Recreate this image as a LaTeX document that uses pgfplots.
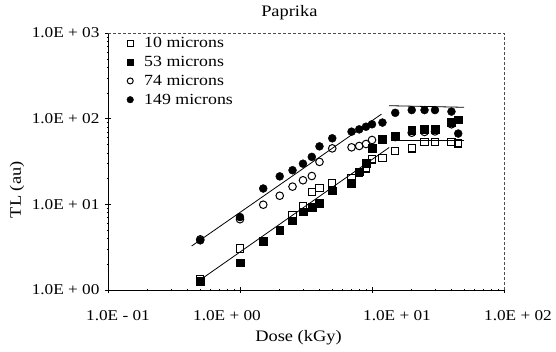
\documentclass[border=0pt]{standalone}
\usepackage{fontspec}
\setmainfont{Liberation Serif}[FakeStretch=1.15]
\usepackage{pgfplots}
\pgfplotsset{compat=1.18}
\newcommand\ff{\fontsize{16}{19}\selectfont}
\newcommand\ft{\fontsize{15}{18}\selectfont}
\newcommand\fl{\fontsize{15.5}{18}\selectfont}
\begin{document}
\begin{tikzpicture}
\begin{axis}[
  scale only axis, width=396pt, height=257pt,
  xmode=log, ymode=log, xmin=0.1, xmax=100, ymin=1, ymax=1000,
  axis lines=left, axis line style={-, line width=0.8pt},
  tick align=center, major tick length=6pt, minor tick length=3pt,
  tick style={black, line width=0.5pt},
  xtick={0.1,1,10,100},
  xticklabels={\hspace*{20pt}1.0E - 01, 1.0E + 00\hspace*{26pt}, \hspace*{50pt}1.0E + 01, \hspace*{28pt}1.0E + 02},
  ytick={1,10,100,1000},
  yticklabels={1.0E + 00, 1.0E + 01, 1.0E + 02, 1.0E + 03},
  xticklabel style={font=\ft, anchor=center, yshift=-23pt},
  yticklabel style={font=\ft, anchor=east, xshift=-2pt},
  xlabel={Dose (kGy)}, ylabel={TL (au)},
  xlabel style={font=\ff, at={(rel axis cs:0.481,0)}, anchor=center, yshift=-48pt},
  ylabel style={font=\ff, at={(rel axis cs:0,0.39)}, anchor=center, yshift=91pt},
  title={Paprika}, title style={font=\ff, at={(rel axis cs:0.458,1)}, anchor=center, yshift=14pt},
  legend style={draw=none, fill=none, at={(rel axis cs:0.043,0.995)}, anchor=north west,
    row sep=3pt, inner sep=1pt, font=\fl, nodes={inner xsep=2pt}},
  legend cell align=left,
  legend image code/.code={\path[draw=none,fill=none] (-4pt,0pt) -- (12pt,0pt); \draw[#1] plot coordinates {(0pt,0pt)};},
  clip=false,
]
\addlegendimage{only marks, mark=square, mark size=3pt, mark options={fill=white, line width=1.1pt}}
\addlegendentry{10 microns}
\addlegendimage{only marks, mark=square*, mark size=3pt, mark options={fill=black}}
\addlegendentry{53 microns}
\addlegendimage{only marks, mark=o, mark size=3pt, mark options={fill=white, line width=1pt}}
\addlegendentry{74 microns}
\addlegendimage{only marks, mark=*, mark size=3.3pt, mark options={fill=black}}
\addlegendentry{149 microns}

% fitted lines
\addplot[black, line width=0.8pt, forget plot] coordinates {(0.43,3.26) (11.8,113)};
\addplot[black, line width=0.8pt, forget plot] coordinates {(0.527,1.39) (13.5,46.1)};
\addplot[black, line width=0.8pt, forget plot] coordinates {(13.5,141.7) (49.8,135.8)};
\addplot[black, line width=0.8pt, forget plot] coordinates {(16.3,55.3) (49.8,55.3)};

% 74 microns (open circles)
\addplot[only marks, mark=o, mark size=3.8pt, mark options={fill=white, line width=1pt}, forget plot] coordinates {
(0.5,3.9) (1,6.7) (1.5,9.9) (2,12.6) (2.5,16.1) (3,19.1) (3.5,21.4) (4,31.3) (5,45)
(7,46.3) (8,48) (9,50.6) (10,56.4) (12,57) (15,61) (20,68.5) (25,70) (30,71) (40,86)
};
% 10 microns (open squares)
\addplot[only marks, mark=square, mark size=3.6pt, mark options={fill=white, line width=1.1pt}, forget plot] coordinates {
(0.5,1.35) (1,3.05) (1.5,3.7) (2,5.0) (2.5,7.5) (3,9.5) (3.5,13.9) (4,15.4) (5,17.6)
(7,20.2) (8,23) (9,26.3) (10,33.5) (12,34.5) (15,42.3) (20,45) (25,53) (30,53) (40,53.8) (45,51.5)
};
% 53 microns (filled squares)
\addplot[only marks, mark=square*, mark size=3.9pt, mark options={fill=black}, forget plot] coordinates {
(0.5,1.27) (1,2.08) (1.5,3.7) (2,5.0) (2.5,6.45) (3,8.2) (3.5,9.3) (4,10.3) (5,14.4)
(7,17.8) (8,24) (9,30) (10,45) (12,58) (15,63) (20,74) (25,75) (30,76) (40,91) (45,97)
};
% 149 microns (filled circles)
\addplot[only marks, mark=*, mark size=4pt, mark options={fill=black}, forget plot] coordinates {
(0.5,3.8) (1,7.1) (1.5,15.3) (2,21.2) (2.5,25) (3,29.8) (3.5,35.8) (4,47.5) (5,59)
(7,70.5) (8,75) (9,80.5) (10,86) (12,90) (15,117) (20,126) (25,126) (30,126) (40,121) (45,67)
};

\draw[black!70, densely dashed, line width=0.4pt] (rel axis cs:0,1) -- (rel axis cs:1,1) -- (rel axis cs:1,0);
\coordinate (SW) at (rel axis cs:0,0);
\coordinate (NE) at (rel axis cs:1,1);
\end{axis}
\pgfresetboundingbox
\path ([xshift=-108pt,yshift=-62pt]SW) rectangle ([xshift=52pt,yshift=33pt]NE);
\end{tikzpicture}
\end{document}
